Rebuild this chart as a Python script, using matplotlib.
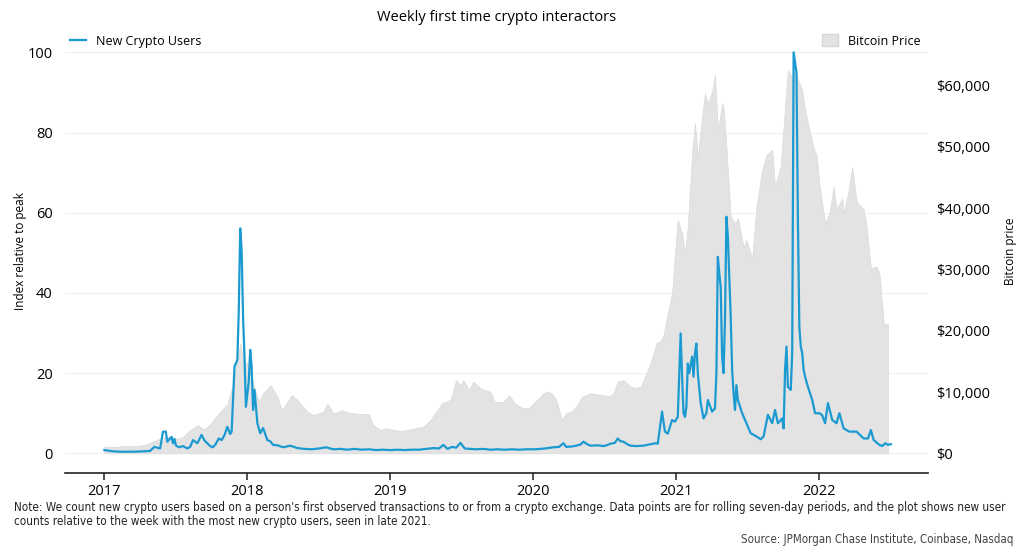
import matplotlib
matplotlib.use("Agg")
import matplotlib.pyplot as plt
import matplotlib.transforms as mtransforms
from matplotlib.patches import Patch
from matplotlib.lines import Line2D

plt.rcParams['font.family'] = ['Open Sans', 'DejaVu Sans']

# weekly new crypto users, index relative to peak (x in decimal years)
users_year = [
    2017.00, 2017.06, 2017.11, 2017.20, 2017.28, 2017.32, 2017.35, 2017.39, 2017.41, 2017.43,
    2017.44, 2017.46, 2017.47, 2017.48, 2017.49, 2017.50, 2017.52, 2017.55, 2017.58, 2017.60,
    2017.62, 2017.65, 2017.68, 2017.70, 2017.72, 2017.74, 2017.76, 2017.78, 2017.80, 2017.82,
    2017.84, 2017.86, 2017.88, 2017.89, 2017.91, 2017.93, 2017.94, 2017.95, 2017.96, 2017.97,
    2017.98, 2017.99, 2018.01, 2018.02, 2018.03, 2018.04, 2018.05, 2018.07, 2018.09, 2018.11,
    2018.14, 2018.16, 2018.18, 2018.21, 2018.25, 2018.30, 2018.35, 2018.40, 2018.45, 2018.50,
    2018.55, 2018.60, 2018.65, 2018.70, 2018.75, 2018.80, 2018.85, 2018.90, 2018.95, 2019.00,
    2019.05, 2019.10, 2019.15, 2019.20, 2019.25, 2019.30, 2019.34, 2019.37, 2019.40, 2019.43,
    2019.46, 2019.49, 2019.52, 2019.56, 2019.60, 2019.65, 2019.70, 2019.75, 2019.80, 2019.85,
    2019.90, 2019.95, 2020.00, 2020.05, 2020.08, 2020.14, 2020.18, 2020.21, 2020.23, 2020.27,
    2020.30, 2020.33, 2020.35, 2020.38, 2020.40, 2020.45, 2020.49, 2020.52, 2020.54, 2020.57,
    2020.59, 2020.61, 2020.63, 2020.66, 2020.68, 2020.72, 2020.77, 2020.81, 2020.85, 2020.87,
    2020.90, 2020.92, 2020.94, 2020.97, 2020.99, 2021.01, 2021.03, 2021.04, 2021.05, 2021.06,
    2021.07, 2021.08, 2021.09, 2021.11, 2021.12, 2021.13, 2021.14, 2021.15, 2021.17, 2021.19,
    2021.21, 2021.22, 2021.25, 2021.27, 2021.28, 2021.29, 2021.30, 2021.31, 2021.32, 2021.33,
    2021.34, 2021.35, 2021.36, 2021.38, 2021.39, 2021.40, 2021.41, 2021.42, 2021.43, 2021.46,
    2021.49, 2021.52, 2021.56, 2021.59, 2021.61, 2021.64, 2021.67, 2021.69, 2021.71, 2021.74,
    2021.75, 2021.76, 2021.77, 2021.78, 2021.80, 2021.81, 2021.82, 2021.84, 2021.85, 2021.86,
    2021.87, 2021.88, 2021.89, 2021.90, 2021.92, 2021.95, 2021.97, 2022.00, 2022.02, 2022.04,
    2022.06, 2022.09, 2022.12, 2022.14, 2022.17, 2022.21, 2022.26, 2022.31, 2022.34, 2022.36,
    2022.38, 2022.42, 2022.44, 2022.46, 2022.48, 2022.50,
]
users_index = [
    0.8, 0.5, 0.4, 0.4, 0.5, 0.6, 1.6, 1.2, 5.4, 5.4,
    2.9, 3.7, 4.1, 2.5, 3.6, 2.0, 1.5, 1.8, 1.2, 1.6,
    3.3, 2.5, 4.6, 3.2, 2.5, 1.8, 1.5, 2.4, 3.7, 3.3,
    4.5, 6.6, 4.8, 5.4, 21.6, 23.3, 35.7, 56.1, 50.7, 34.0,
    24.0, 11.6, 18.0, 25.8, 21.6, 10.8, 15.8, 7.5, 5.0, 6.3,
    3.3, 3.0, 2.1, 2.0, 1.5, 1.9, 1.3, 1.1, 1.0, 1.2,
    1.5, 1.0, 1.1, 0.9, 1.1, 0.9, 1.0, 0.8, 0.9, 0.8,
    0.9, 0.8, 0.9, 0.9, 1.1, 1.3, 1.2, 2.1, 1.1, 1.6,
    1.4, 2.6, 1.2, 1.1, 1.0, 1.1, 0.9, 1.0, 0.9, 1.0,
    0.9, 1.0, 1.0, 1.1, 1.2, 1.5, 1.6, 2.5, 1.6, 1.7,
    1.9, 2.2, 2.9, 2.2, 1.9, 2.0, 1.8, 2.1, 2.4, 2.6,
    3.7, 3.0, 2.9, 2.2, 1.9, 1.8, 1.9, 2.2, 2.5, 2.4,
    10.4, 5.4, 4.9, 8.3, 7.9, 9.1, 29.9, 19.1, 10.0, 9.1,
    11.6, 22.4, 20.0, 24.1, 19.1, 24.9, 27.4, 20.0, 12.5, 8.7,
    10.0, 13.3, 10.4, 11.2, 20.0, 49.0, 45.0, 41.5, 24.1, 20.0,
    33.2, 59.0, 54.0, 34.1, 20.8, 15.0, 10.8, 17.0, 13.3, 10.0,
    7.5, 5.0, 4.2, 3.5, 4.2, 9.6, 7.5, 10.8, 7.5, 8.7,
    6.2, 20.8, 26.6, 16.6, 15.8, 25.0, 100.0, 95.0, 58.0, 31.6,
    26.6, 25.0, 20.8, 19.1, 16.6, 13.3, 10.0, 10.0, 9.5, 7.5,
    12.5, 8.3, 7.5, 10.0, 6.2, 5.4, 5.4, 3.7, 3.7, 5.8,
    3.3, 2.1, 1.8, 2.5, 2.1, 2.3,
]

# bitcoin price, USD
btc_year = [
    2017.00, 2017.05, 2017.10, 2017.15, 2017.20, 2017.25, 2017.30, 2017.34, 2017.38, 2017.42,
    2017.44, 2017.48, 2017.52, 2017.55, 2017.60, 2017.65, 2017.70, 2017.75, 2017.79, 2017.83,
    2017.86, 2017.88, 2017.90, 2017.93, 2017.95, 2017.97, 2018.00, 2018.02, 2018.04, 2018.06,
    2018.08, 2018.11, 2018.14, 2018.16, 2018.19, 2018.21, 2018.24, 2018.27, 2018.31, 2018.35,
    2018.39, 2018.42, 2018.46, 2018.50, 2018.53, 2018.56, 2018.60, 2018.63, 2018.66, 2018.71,
    2018.75, 2018.80, 2018.85, 2018.88, 2018.93, 2018.97, 2019.02, 2019.07, 2019.12, 2019.18,
    2019.23, 2019.28, 2019.33, 2019.36, 2019.42, 2019.46, 2019.49, 2019.51, 2019.55, 2019.58,
    2019.63, 2019.70, 2019.73, 2019.79, 2019.83, 2019.87, 2019.93, 2019.97, 2020.00, 2020.04,
    2020.07, 2020.10, 2020.13, 2020.16, 2020.20, 2020.23, 2020.27, 2020.30, 2020.34, 2020.40,
    2020.45, 2020.49, 2020.53, 2020.56, 2020.59, 2020.63, 2020.68, 2020.72, 2020.75, 2020.78,
    2020.82, 2020.86, 2020.89, 2020.91, 2020.93, 2020.97, 2020.99, 2021.01, 2021.04, 2021.06,
    2021.08, 2021.11, 2021.13, 2021.15, 2021.18, 2021.20, 2021.22, 2021.25, 2021.27, 2021.29,
    2021.32, 2021.33, 2021.35, 2021.38, 2021.41, 2021.43, 2021.47, 2021.49, 2021.53, 2021.56,
    2021.60, 2021.63, 2021.67, 2021.69, 2021.73, 2021.76, 2021.78, 2021.81, 2021.83, 2021.85,
    2021.88, 2021.90, 2021.93, 2021.96, 2021.98, 2022.00, 2022.04, 2022.07, 2022.10, 2022.12,
    2022.16, 2022.17, 2022.20, 2022.23, 2022.26, 2022.31, 2022.33, 2022.36, 2022.40, 2022.42,
    2022.45, 2022.48,
]
btc_price = [
    1100, 1000, 1100, 1200, 1150, 1250, 1500, 1900, 2300, 2600,
    2700, 2500, 2400, 2700, 3800, 4600, 3900, 5000, 6200, 7300,
    8000, 9800, 11400, 15500, 17950, 15000, 14700, 13500, 11500, 10000,
    8400, 9800, 10500, 11150, 10000, 9250, 7050, 8000, 9500, 8700,
    7600, 6800, 6250, 6500, 6800, 8150, 6550, 6700, 7050, 6600,
    6500, 6400, 6400, 4600, 3800, 4100, 3800, 3650, 3800, 4100,
    4350, 5450, 7050, 8150, 8700, 11950, 11100, 11950, 10350, 11700,
    10600, 10000, 8400, 8400, 9500, 8150, 7350, 7400, 8150, 9000,
    9800, 10050, 9700, 8700, 5450, 6550, 6900, 7600, 9250, 9800,
    9600, 9500, 9300, 9800, 11700, 11950, 10850, 10700, 10850, 12500,
    14700, 17950, 18300, 19300, 21750, 26100, 32650, 38100, 35900, 32650,
    37000, 49000, 53850, 48400, 54950, 58750, 57100, 59000, 61750, 52800,
    57100, 56500, 50000, 38600, 37500, 38350, 33700, 34800, 31800, 40250,
    46250, 48700, 49500, 43500, 46900, 56550, 62550, 61200, 62850, 61000,
    59300, 56000, 52800, 49800, 48700, 44050, 37500, 39150, 43500, 39800,
    41600, 39150, 42400, 46750, 41050, 39800, 37000, 30200, 30500, 29400,
    21200, 21000,
]

year_ticks = [2017, 2018, 2019, 2020, 2021, 2022]
index_ticks = [0, 20, 40, 60, 80, 100]
price_ticks = [0, 10000, 20000, 30000, 40000, 50000, 60000]

blue = '#1b9ad2'
fill_gray = '#e3e3e3'

fig = plt.figure(figsize=(10.24, 5.56), dpi=100)
ax = fig.add_axes([0.0635, 0.1498, 0.8428, 0.7962])
ax2 = ax.twinx()

ylo, yhi = -4.84, 105.56
ratio = 654.4  # dollars per index point so that both zeros line up
ax.set_ylim(ylo, yhi)
ax2.set_ylim(ylo * ratio, yhi * ratio)
ax.set_xlim(2016.725, 2022.76)

# price axis sits under the user index
ax.set_zorder(ax2.get_zorder() + 1)
ax.patch.set_visible(False)

# grid for the left scale, drawn under the gray area
grid_tr = mtransforms.blended_transform_factory(ax2.transAxes, ax.transData)
for t in index_ticks:
    ax2.plot([0, 1], [t, t], color='#efefef', lw=0.8, transform=grid_tr, zorder=0)

ax2.fill_between(btc_year, 0, btc_price, color=fill_gray, edgecolor='#dadada', lw=0.5, zorder=1)
ax.plot(users_year, users_index, color=blue, lw=1.6, zorder=3)

for a in (ax, ax2):
    for s in ['top', 'left', 'right']:
        a.spines[s].set_visible(False)
ax2.spines['bottom'].set_visible(False)
ax.spines['bottom'].set_color('#222222')
ax.spines['bottom'].set_linewidth(1.2)

ax.set_xticks(year_ticks)
ax.set_xticklabels([str(y) for y in year_ticks], fontsize=10.5)
ax.tick_params(axis='x', length=5, width=1.1, color='#222222', pad=3)
ax.set_yticks(index_ticks)
ax.set_yticklabels([str(t) for t in index_ticks], fontsize=10.5)
ax.tick_params(axis='y', length=0, pad=9)
ax2.set_yticks(price_ticks)
ax2.set_yticklabels(['${:,}'.format(p) for p in price_ticks], fontsize=10.5)
ax2.tick_params(axis='y', length=0, pad=6)

ax.set_ylabel('Index relative to peak', fontsize=8.5)
ax.yaxis.set_label_coords(-0.044, 0.5)
ax2.set_ylabel('Bitcoin price', fontsize=8.5)
ax2.yaxis.set_label_coords(1.088, 0.5)

fig.text(0.485, 0.968, 'Weekly first time crypto interactors', ha='center', va='center', fontsize=10.5)

leg1 = ax.legend(handles=[Line2D([], [], color=blue, lw=1.6)], labels=['New Crypto Users'],
                 loc='center left', bbox_to_anchor=(0.0, 0.975), frameon=False,
                 fontsize=9, handlelength=1.3, borderaxespad=0)
ax.add_artist(leg1)
ax.legend(handles=[Patch(facecolor=fill_gray, edgecolor='#d6d6d6')], labels=['Bitcoin Price'],
          loc='center right', bbox_to_anchor=(0.997, 0.975), frameon=False,
          fontsize=9, handlelength=1.3, handleheight=1.1, borderaxespad=0)

note = ("Note: We count new crypto users based on a person's first observed transactions to or from a crypto exchange. "
        "Data points are for rolling seven-day periods, and the plot shows new user\n"
        "counts relative to the week with the most new crypto users, seen in late 2021.")
fig.text(0.0137, 0.099, note, ha='left', va='top', fontsize=8.4, linespacing=1.15,
         family='DejaVu Sans', fontstretch='condensed', color='#222222')
fig.text(0.99, 0.029, 'Source: JPMorgan Chase Institute, Coinbase, Nasdaq', ha='right', va='center',
         fontsize=8.3, family='DejaVu Sans', fontstretch='condensed', color='#444444')

fig.savefig('out.png', dpi=100)
